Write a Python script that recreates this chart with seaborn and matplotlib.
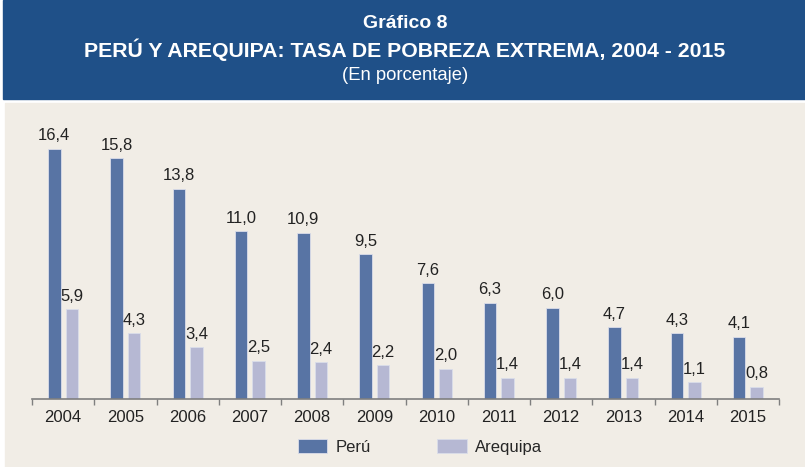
import numpy as np
import pandas as pd
import seaborn as sns
import matplotlib.pyplot as plt
from matplotlib.patches import Rectangle

# datos del gráfico
anios = ["2004", "2005", "2006", "2007", "2008", "2009",
         "2010", "2011", "2012", "2013", "2014", "2015"]
peru = [16.4, 15.8, 13.8, 11.0, 10.9, 9.5, 7.6, 6.3, 6.0, 4.7, 4.3, 4.1]
arequipa = [5.9, 4.3, 3.4, 2.5, 2.4, 2.2, 2.0, 1.4, 1.4, 1.4, 1.1, 0.8]
series = ["Perú", "Arequipa"]

df = pd.DataFrame({
    "Anio": anios * 2,
    "Valor": peru + arequipa,
    "Serie": [series[0]] * len(anios) + [series[1]] * len(anios),
})

azul = "#5874A4"
lila = "#B6B8D3"
fondo = "#F1EDE6"
cabecera = "#1F5088"

sns.set_style("white")
plt.rcParams["font.family"] = ["Liberation Sans", "DejaVu Sans"]

fig = plt.figure(figsize=(8.05, 4.67), dpi=100)
fig.patch.set_facecolor("white")

# cabecera azul y panel beige (detrás de los ejes)
fig.patches.append(Rectangle((3 / 805, 1 - 99 / 467), 1, 99 / 467,
                             transform=fig.transFigure, color=cabecera, zorder=-2))
fig.patches.append(Rectangle((5 / 805, 0), 1, 1 - 103 / 467,
                             transform=fig.transFigure, color=fondo, zorder=-2))

xc = 405 / 805
fig.text(xc, 1 - 23 / 467, "Gráfico 8", color="white", fontsize=14,
         fontweight="bold", ha="center", va="center")
fig.text(xc, 1 - 50 / 467, "PERÚ Y AREQUIPA: TASA DE POBREZA EXTREMA, 2004 - 2015",
         color="white", fontsize=15.3, fontweight="bold", ha="center", va="center")
fig.text(xc, 1 - 75 / 467, "(En porcentaje)", color="white", fontsize=13.3,
         ha="center", va="center")

ax = fig.add_axes([32 / 805, 68 / 467, 747 / 805, 289.6 / 467])
ax.set_facecolor("none")
ax.set_zorder(1)

sns.barplot(data=df, x="Anio", y="Valor", hue="Serie", order=anios,
            hue_order=series, palette=[azul, lila], width=0.565, gap=0.28,
            saturation=1, edgecolor="#DADDEA", linewidth=0.6, ax=ax)

for cont in ax.containers:
    etiquetas = [f"{v:.1f}".replace(".", ",") for v in cont.datavalues]
    ax.bar_label(cont, labels=etiquetas, padding=4, fontsize=12, color="#222222")

ax.set_xlim(-0.5, len(anios) - 0.5)
ax.set_ylim(0, 19)
ax.set_xlabel("")
ax.set_ylabel("")
ax.set_yticks([])
for s in ["top", "right", "left"]:
    ax.spines[s].set_visible(False)
ax.spines["bottom"].set_color("#7F7F7F")
ax.spines["bottom"].set_linewidth(1.2)

ax.set_xticks(np.arange(len(anios)))
ax.set_xticklabels(anios)
ax.set_xticks(np.arange(len(anios) + 1) - 0.5, minor=True)
ax.tick_params(axis="x", which="major", length=0, labelsize=12, pad=8, labelcolor="#222222")
ax.tick_params(axis="x", which="minor", length=4, width=1, color="#7F7F7F", direction="out")
ax.xaxis.set_ticks_position("bottom")

leg = ax.legend(loc="center", bbox_to_anchor=(420 / 805, 1 - 447 / 467),
                bbox_transform=fig.transFigure, ncol=2,
                frameon=False, fontsize=12, handlelength=1.75, handleheight=0.85,
                columnspacing=4.0, handletextpad=0.5)

fig.savefig("out.png", dpi=100, facecolor=fig.get_facecolor())
